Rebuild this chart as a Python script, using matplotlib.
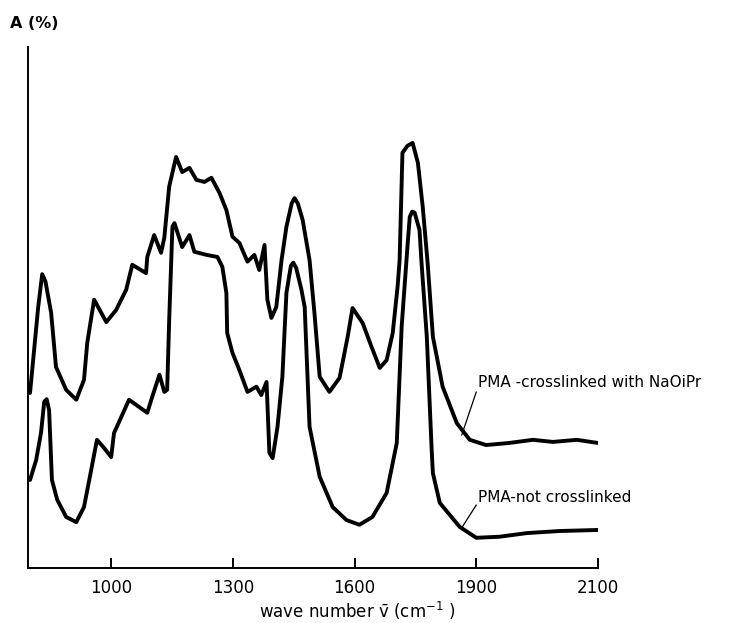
import matplotlib
matplotlib.use('Agg')
import matplotlib.pyplot as plt
import numpy as np

# IR spectra (wave number cm-1, absorbance in % of axis height)
wn_cross = [800, 820, 830, 838, 852, 864, 889, 914, 933, 941, 958, 988, 1012, 1037, 1052,
            1086, 1089, 1106, 1123, 1131, 1143, 1160, 1175, 1193, 1210, 1230, 1247, 1267,
            1284, 1299, 1316, 1336, 1353, 1365, 1378, 1385, 1395, 1407, 1420, 1432, 1445,
            1452, 1460, 1472, 1489, 1501, 1514, 1538, 1563, 1583, 1595, 1620, 1642, 1662,
            1679, 1694, 1706, 1711, 1718, 1730, 1743, 1756, 1768, 1780, 1793, 1817, 1852,
            1884, 1916, 1954, 1993, 2026, 2065, 2100]
a_cross = [33.6, 50.0, 56.4, 55.0, 49.0, 38.6, 34.2, 32.3, 36.1, 43.2, 51.5, 47.2, 49.5,
           53.4, 58.2, 56.6, 59.7, 63.9, 60.5, 63.4, 73.2, 78.9, 76.0, 76.8, 74.5, 74.1,
           74.9, 72.0, 68.7, 63.6, 62.4, 58.8, 60.1, 57.2, 62.0, 51.5, 48.0, 50.1, 59.1,
           65.5, 70.0, 71.0, 70.0, 66.8, 59.1, 49.0, 36.7, 33.8, 36.5, 44.4, 49.9, 47.0,
           42.4, 38.4, 39.9, 45.1, 54.0, 59.1, 79.7, 81.0, 81.6, 77.8, 69.3, 58.6, 44.4,
           34.8, 27.8, 24.6, 23.6, 24.0, 24.6, 24.2, 24.6, 24.0]

wn_plain = [800, 815, 827, 835, 841, 847, 854, 867, 889, 914, 933, 946, 965, 983, 1000,
            1007, 1025, 1044, 1069, 1089, 1101, 1119, 1131, 1138, 1143, 1151, 1156, 1175,
            1193, 1205, 1235, 1262, 1274, 1284, 1286, 1299, 1316, 1336, 1358, 1370, 1383,
            1390, 1398, 1410, 1422, 1432, 1443, 1449, 1456, 1469, 1477, 1489, 1514, 1546,
            1580, 1612, 1644, 1679, 1704, 1716, 1731, 1736, 1742, 1748, 1760, 1765, 1778,
            1790, 1793, 1810, 1859, 1900, 1938, 1983, 2037, 2100]
a_plain = [16.9, 20.7, 25.9, 31.9, 32.4, 30.3, 16.9, 13.1, 9.8, 8.8, 11.7, 16.9, 24.6, 23.0,
           21.3, 25.9, 29.0, 32.3, 30.9, 29.8, 32.8, 37.1, 33.8, 34.2, 47.6, 65.5, 66.2,
           61.6, 63.9, 60.7, 60.1, 59.7, 57.8, 52.8, 45.1, 41.3, 38.0, 33.8, 34.8, 33.2,
           35.7, 22.1, 21.1, 27.1, 36.7, 52.8, 58.0, 58.6, 57.6, 53.4, 50.1, 27.1, 17.5,
           11.7, 9.2, 8.3, 9.8, 14.4, 24.0, 46.3, 62.4, 67.4, 68.4, 68.2, 64.9, 58.6, 44.4,
           22.7, 18.2, 12.5, 7.9, 5.8, 6.0, 6.7, 7.1, 7.3]

ticks = [1000, 1300, 1600, 1900, 2100]
label_cross = 'PMA -crosslinked with NaOiPr'
label_plain = 'PMA-not crosslinked'


# the drawn axis is not linear: the last interval (1900-2100) is as long as 300 units
def fwd(x):
    x = np.asarray(x, dtype=float)
    return np.where(x <= 1900, x / 300, 1900 / 300 + (x - 1900) / 200)


def inv(u):
    u = np.asarray(u, dtype=float)
    return np.where(u <= 1900 / 300, u * 300, 1900 + (u - 1900 / 300) * 200)


plt.rcParams['font.family'] = ['DejaVu Sans']
fig = plt.figure(figsize=(7.51, 6.23), dpi=100)
ax = fig.add_axes([28 / 751, 55 / 623, 570 / 751, 521 / 623])

ax.plot(wn_cross, a_cross, color='black', lw=2.8, solid_joinstyle='round', solid_capstyle='round')
ax.plot(wn_plain, a_plain, color='black', lw=2.8, solid_joinstyle='round', solid_capstyle='round')

ax.set_xscale('function', functions=(fwd, inv))
ax.set_xlim(795, 2100)
ax.set_ylim(0, 100)

# leader lines and labels
ax.annotate('', xy=(1864, 25.5), xytext=(1900, 33.8),
            arrowprops=dict(arrowstyle='-', lw=0.9, color='black', shrinkA=0, shrinkB=0))
ax.text(1903, 35.7, label_cross, fontsize=11, va='center', ha='left')
ax.annotate('', xy=(1864, 7.7), xytext=(1900, 12.1),
            arrowprops=dict(arrowstyle='-', lw=0.9, color='black', shrinkA=0, shrinkB=0))
ax.text(1903, 13.6, label_plain, fontsize=11, va='center', ha='left')

for s in ['top', 'right']:
    ax.spines[s].set_visible(False)
for s in ['left', 'bottom']:
    ax.spines[s].set_linewidth(1.4)

ax.set_xticks(ticks)
ax.set_xticklabels([str(t) for t in ticks], fontsize=12)
ax.xaxis.set_minor_locator(matplotlib.ticker.NullLocator())
ax.tick_params(axis='x', direction='in', length=7, width=1.4, pad=8)
ax.set_yticks([])

ax.set_xlabel('wave number v\u0304 (cm$^{-1}$ )', fontsize=12)
ax.xaxis.set_label_coords(0.577, -0.062)

fig.text(10 / 751, 1 - 23 / 623, 'A (%)', fontsize=11.5, fontweight='bold', va='center', ha='left')

fig.savefig('out.png', dpi=100)
